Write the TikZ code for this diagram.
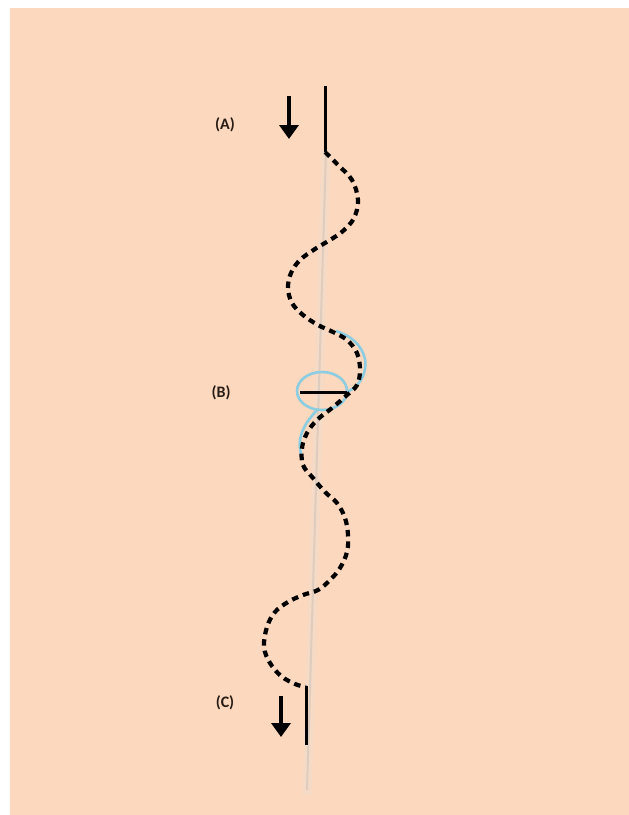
\documentclass[tikz,border=0pt]{standalone}
\usepackage{fontspec}
\setmainfont{Carlito}
\usetikzlibrary{arrows.meta}
\definecolor{peach}{RGB}{251,216,190}
\definecolor{txt}{RGB}{40,28,20}
\definecolor{lblue}{RGB}{140,205,225}
\definecolor{shadeband}{RGB}{245,218,198}
\definecolor{shadeline}{RGB}{222,205,190}
\tikzset{
  lbl/.style={font=\fontsize{16}{18}\selectfont\bfseries, text=txt, inner sep=0pt},
  solidline/.style={draw=black, line width=3pt},
  wave/.style={draw=black, line width=4.2pt, dash pattern=on 6.5pt off 5pt},
  downarrow/.style={draw=black, line width=3.8pt, -{Triangle[width=19pt,length=14pt]}},
  bluecurve/.style={draw=lblue, line width=2.6pt}
}
\begin{document}
\begin{tikzpicture}[x=1pt,y=-1pt]
\useasboundingbox (0,0) rectangle (629,815);
\fill[white] (0,0) rectangle (629,815);
\fill[peach] (10,8) rectangle (629,815);
% faint vertical shadow line
\draw[shadeband, line width=9pt] (326,150) -- (307,795);
\draw[shadeline, line width=2pt] (326,150) -- (307,790);
% labels
\node[lbl] (la) at (225,125) {(A)};
\node[lbl] (lb) at (221,393) {(B)};
\node[lbl] (lc) at (225,703) {(C)};
% arrows
\coordinate (a1) at (289,96);
\coordinate (a2) at (289,139);
\coordinate (c1) at (281,696);
\coordinate (c2) at (281,737);
\draw[downarrow] (a1) -- (a2);
\draw[downarrow] (c1) -- (c2);
% top and bottom solid lines
\coordinate (t0) at (325,86);
\coordinate (t1) at (325,152);
\coordinate (b0) at (306,686);
\coordinate (b1) at (306,745);
\draw[solidline] (t0) -- (t1);
\draw[solidline] (b0) -- (b1);
% blue curves
\draw[bluecurve] (322,391) ellipse [x radius=25, y radius=19];
\draw[bluecurve] plot[smooth, tension=0.7] coordinates {(336,331) (352,339) (363,353) (365,369) (358,384) (347,392)};
\draw[bluecurve] plot[smooth, tension=0.7] coordinates {(318,409) (306,424) (300,440) (301,454)};
% dashed wave
\draw[wave] plot[smooth, tension=0.6] coordinates {
 (325,152) (338,165) (352,180) (358,200) (354,218) (343,231) (330,240)
 (315,249) (300,260) (291,273) (288,288) (292,303) (303,315) (318,325)
 (333,332) (347,340) (357,353) (360,370) (357,385) (347,395) (332,408)
 (317,420) (307,433) (302,448) (303,465) (313,478) (325,492) (337,503)
 (345,518) (348,535) (347,552) (340,568) (330,580) (318,590) (303,595)
 (288,602) (275,612) (267,627) (264,647) (270,663) (281,676) (295,684) (306,687)};
% B line
\coordinate (bl0) at (300,392);
\coordinate (bl1) at (347,392);
\draw[solidline] (bl0) -- (bl1);
\end{tikzpicture}
\end{document}
